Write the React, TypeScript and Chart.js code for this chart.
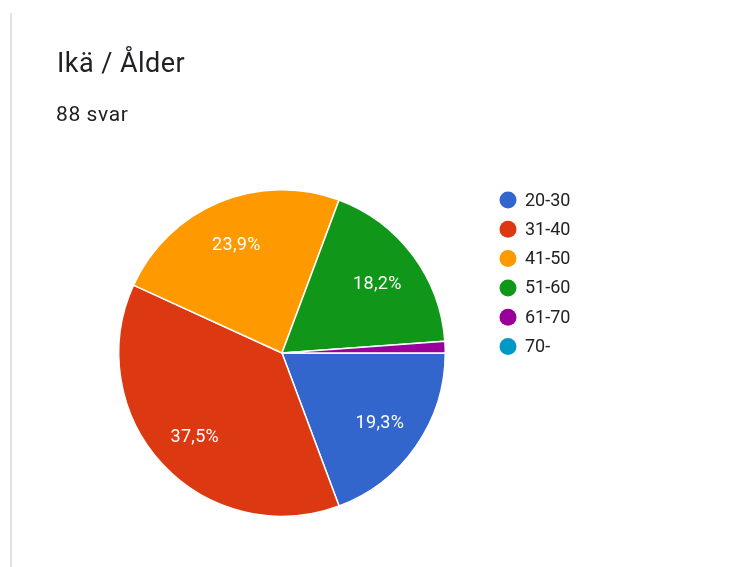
import React, { useEffect, useRef } from "react";
import { Chart, registerables } from "chart.js";

Chart.register(...registerables);

const TITLE = "Ikä / Ålder";
const SUBTITLE = "88 svar";
const categories = ["20-30", "31-40", "41-50", "51-60", "61-70", "70-"];
const counts = [17, 33, 21, 16, 1, 0];
const percentLabels = ["19,3%", "37,5%", "23,9%", "18,2%", "", ""];
const colors = ["#3366cc", "#dc3912", "#ff9900", "#109618", "#990099", "#0099c6"];

const FONT = "Roboto, Arial, sans-serif";

const sliceLabelPlugin = {
  id: "sliceLabels",
  afterDatasetsDraw(chart: any) {
    const ctx = chart.ctx;
    const meta = chart.getDatasetMeta(0);
    ctx.save();
    ctx.fillStyle = "#ffffff";
    ctx.font = `18px ${FONT}`;
    try {
      (ctx as any).letterSpacing = "0.3px";
    } catch (e) {}
    ctx.textAlign = "center";
    ctx.textBaseline = "middle";
    meta.data.forEach((arc: any, i: number) => {
      const txt = percentLabels[i];
      if (!txt) return;
      const { x, y, startAngle, endAngle, outerRadius } = arc.getProps(
        ["x", "y", "startAngle", "endAngle", "outerRadius"],
        true
      );
      const mid = (startAngle + endAngle) / 2;
      const r = outerRadius * 0.73;
      ctx.fillText(txt, x + Math.cos(mid) * r, y + Math.sin(mid) * r + 3);
    });
    ctx.restore();
  },
};

const legendPlugin = {
  id: "customLegend",
  afterDraw(chart: any) {
    const ctx = chart.ctx;
    const labels = chart.data.labels as string[];
    const bg = chart.data.datasets[0].backgroundColor as string[];
    const x0 = 508;
    const y0 = 200;
    const step = 29.3;
    ctx.save();
    ctx.font = `18px ${FONT}`;
    ctx.textAlign = "left";
    ctx.textBaseline = "middle";
    labels.forEach((lab, i) => {
      const y = y0 + i * step;
      ctx.beginPath();
      ctx.arc(x0, y, 8.5, 0, Math.PI * 2);
      ctx.fillStyle = bg[i];
      ctx.fill();
      ctx.fillStyle = "#222222";
      ctx.fillText(lab, x0 + 17, y + 1);
    });
    ctx.restore();
  },
};

export default function App() {
  const ref = useRef<HTMLCanvasElement | null>(null);

  useEffect(() => {
    if (!ref.current) return;
    const chart = new Chart(ref.current, {
      type: "pie",
      data: {
        labels: categories,
        datasets: [
          {
            data: counts,
            backgroundColor: colors,
            borderColor: "#ffffff",
            borderWidth: 1.5,
          },
        ],
      },
      options: {
        animation: false,
        responsive: false,
        rotation: 90,
        layout: {
          padding: { left: 118, right: 305, top: 189, bottom: 50 },
        },
        plugins: {
          legend: { display: false },
          tooltip: { enabled: false },
          title: { display: false },
        },
      },
      plugins: [sliceLabelPlugin, legendPlugin],
    });
    return () => chart.destroy();
  }, []);

  return (
    <div
      style={{
        position: "fixed",
        left: 0,
        top: 0,
        width: 751,
        height: 567,
        background: "#ffffff",
        overflow: "hidden",
        fontFamily: FONT,
      }}
    >
      <div
        style={{
          position: "absolute",
          left: 10,
          top: 13,
          width: 2,
          height: 554,
          background: "#e0e0e0",
        }}
      />
      <canvas
        ref={ref}
        width={751}
        height={567}
        style={{ position: "absolute", left: 0, top: 0, width: 751, height: 567 }}
      />
      <div
        style={{
          position: "absolute",
          left: 57,
          top: 47,
          fontSize: 27,
          lineHeight: "32px",
          letterSpacing: "0.45px",
          color: "#202124",
          whiteSpace: "nowrap",
        }}
      >
        {TITLE}
      </div>
      <div
        style={{
          position: "absolute",
          left: 56,
          top: 102,
          fontSize: 21,
          lineHeight: "24px",
          letterSpacing: "0.6px",
          color: "#202124",
          whiteSpace: "nowrap",
        }}
      >
        {SUBTITLE}
      </div>
    </div>
  );
}
